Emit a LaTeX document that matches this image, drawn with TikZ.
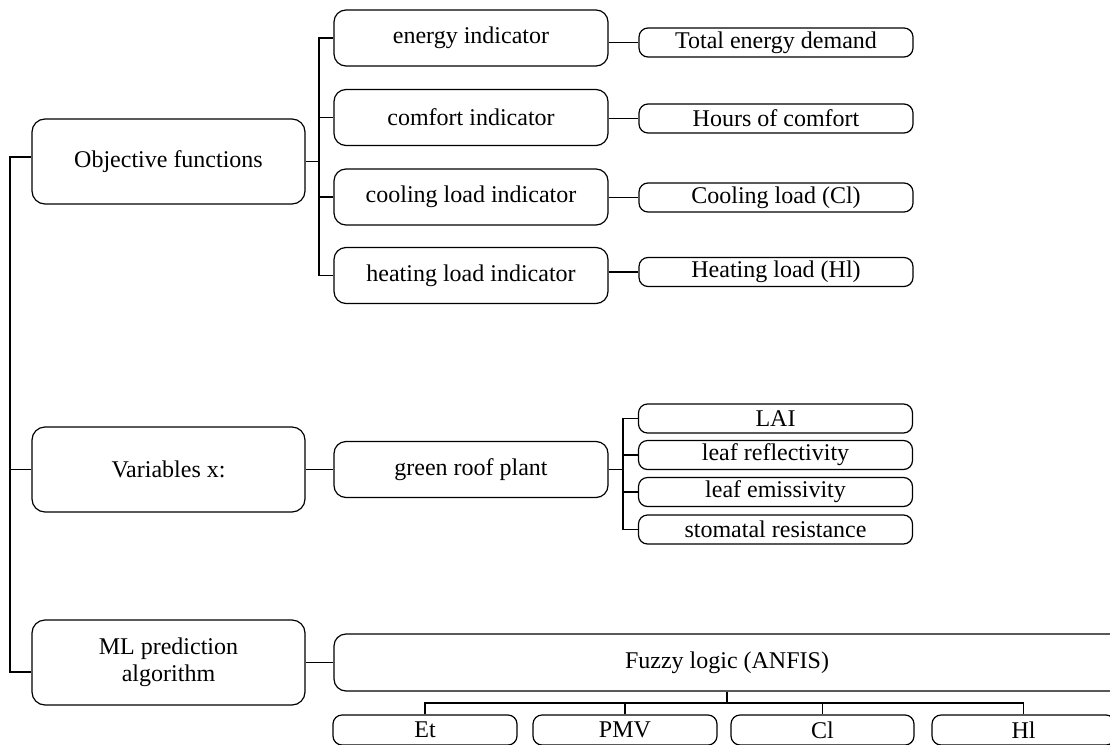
\documentclass[tikz,border=0pt]{standalone}
\usepackage{fontspec}
\setmainfont{Liberation Serif}
\begin{document}
\begin{tikzpicture}[x=1pt,y=-1pt,
  every node/.style={font=\fontsize{24}{27}\selectfont, inner sep=0pt, text=black},
  bigbox/.style={draw, line width=1.2pt, rounded corners=13pt, minimum width=273pt, minimum height=85pt, align=center},
  midbox/.style={draw, line width=1.2pt, rounded corners=12pt, minimum width=274pt, minimum height=56pt, align=center},
  smallbox/.style={draw, line width=1.2pt, rounded corners=9pt, minimum width=274pt, minimum height=29pt},
  botbox/.style={draw, line width=1.2pt, rounded corners=9pt, minimum width=184pt, minimum height=30pt},
  link/.style={draw, line width=1.2pt}
]
\clip (0,0) rectangle (1110,744);
\fill[white] (0,0) rectangle (1110,744);

% left column
\node[bigbox] (obj) at (168.5,161.5) {Objective functions};
\node[bigbox] (var) at (168.5,469.5) {Variables x:};
\node[bigbox] (ml)  at (168.5,662.5) {ML prediction\\algorithm};

% middle column
\node[midbox] (en) at (471,38) {energy indicator};
\node[midbox] (co) at (471,117.5) {comfort indicator};
\node[midbox] (cl) at (471,197) {cooling load indicator};
\node[midbox] (he) at (471,275.5) {heating load indicator};
\node[midbox] (gr) at (471,469.5) {green roof plant};

% right column
\node[smallbox] (te) at (776,42.5) {Total energy demand};
\node[smallbox] (hc) at (776,118.5) {Hours of comfort};
\node[smallbox] (cll) at (776,197.5) {Cooling load (Cl)};
\node[smallbox] (hl) at (776,272) {Heating load (Hl)};

\node[smallbox] (lai) at (775.5,418.5) {LAI};
\node[smallbox] (lr)  at (775.5,455) {leaf reflectivity};
\node[smallbox] (le)  at (775.5,492) {leaf emissivity};
\node[smallbox] (sr)  at (775.5,529.5) {stomatal resistance};

% fuzzy
\node[draw, line width=1.2pt, rounded corners=12pt, minimum width=790pt, minimum height=57pt] (fz) at (729,662.5) {};
\node (fzt) at (727,662.5) {Fuzzy logic (ANFIS)};

\node[botbox] (et)  at (425,730) {Et};
\node[botbox] (pmv) at (625,730) {PMV};
\node[botbox, minimum width=183pt] (clb) at (822.5,730) {Cl};
\node[botbox, minimum width=183pt] (hlb) at (1023.5,730) {Hl};

% trunk
\coordinate (ta) at (10,157);
\coordinate (tb) at (10,672);
\draw[link] ([yshift=4.5pt]obj.west) -- (ta) -- (tb) -- ([yshift=-9.5pt]ml.west);
\draw[link] (var.west) -- (var.west -| ta);

% objective -> indicators
\coordinate (b) at (319,0);
\draw[link] (obj.east) -- (obj.east -| b);
\draw[link] (en.west) -- (en.west -| b) -- (he.west -| b) -- (he.west);
\draw[link] (co.west) -- (co.west -| b);
\draw[link] (cl.west) -- (cl.west -| b);

% indicators -> outputs
\draw[link] (te.west -| en.east) -- (te.west);
\draw[link] (hc.west -| co.east) -- (hc.west);
\draw[link] (cll.west -| cl.east) -- (cll.west);
\draw[link] (hl.west -| he.east) -- (hl.west);

% variables -> green roof -> leaves
\draw[link] (var.east) -- (gr.west);
\coordinate (c) at (623,0);
\draw[link] (gr.east) -- (gr.east -| c);
\draw[link] (lai.west) -- (lai.west -| c) -- (sr.west -| c) -- (sr.west);
\draw[link] (lr.west) -- (lr.west -| c);
\draw[link] (le.west) -- (le.west -| c);

% ML -> fuzzy -> outputs
\draw[link] (ml.east) -- (fz.west);
\coordinate (br) at (0,703);
\draw[link] (fzt |- fz.south) -- (fzt |- br);
\draw[link] (et.north) -- (et.north |- br) -- (hlb.north |- br) -- (hlb.north);
\draw[link] (pmv.north) -- (pmv.north |- br);
\draw[link] (clb.north) -- (clb.north |- br);
\end{tikzpicture}
\end{document}
